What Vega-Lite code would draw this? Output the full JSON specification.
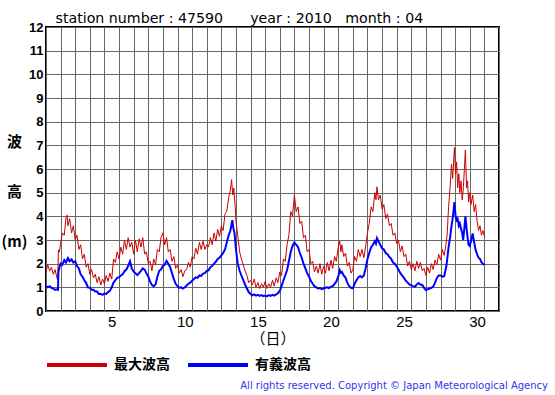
{
  "$schema": "https://vega.github.io/schema/vega-lite/v6.json",
  "width": 453,
  "height": 284,
  "autosize": {"type": "none"},
  "padding": {"left": 46, "top": 27, "right": 56, "bottom": 84},
  "background": "white",
  "config": {"view": {"stroke": "black", "strokeWidth": 2}, "font": "Liberation Sans", "axis": {"labelOverlap": false}},
  "title": {
    "text": "All rights reserved. Copyright © Japan Meteorological Agency",
    "orient": "bottom", "anchor": "end", "frame": "group", "dx": 49, "offset": 8,
    "fontSize": 10, "font": "DejaVu Sans", "fontWeight": "normal", "color": "#3333ee"
  },
  "datasets": {
    "maxh": [
      {"t":1.00,"v":1.66},{"t":1.12,"v":1.95},{"t":1.25,"v":1.7},{"t":1.37,"v":1.85},{"t":1.50,"v":1.55},{"t":1.62,"v":1.75},{"t":1.75,"v":1.4},{"t":1.80,"v":1.3},{"t":1.85,"v":2.58},{"t":1.92,"v":2.5},
      {"t":2.00,"v":2.86},{"t":2.12,"v":3.3},{"t":2.25,"v":3.2},{"t":2.37,"v":3.95},{"t":2.45,"v":4.05},{"t":2.50,"v":3.6},{"t":2.62,"v":3.9},{"t":2.75,"v":3.3},{"t":2.87,"v":3.6},
      {"t":3.00,"v":3.0},{"t":3.12,"v":3.2},{"t":3.25,"v":2.6},{"t":3.37,"v":2.8},{"t":3.50,"v":2.2},{"t":3.62,"v":2.4},{"t":3.75,"v":1.85},{"t":3.87,"v":2.0},
      {"t":4.00,"v":1.55},{"t":4.12,"v":1.75},{"t":4.25,"v":1.4},{"t":4.37,"v":1.55},{"t":4.50,"v":1.2},{"t":4.62,"v":1.45},{"t":4.75,"v":1.1},{"t":4.87,"v":1.35},
      {"t":5.00,"v":1.15},{"t":5.12,"v":1.5},{"t":5.25,"v":1.25},{"t":5.37,"v":1.6},{"t":5.50,"v":1.35},{"t":5.62,"v":2.2},{"t":5.75,"v":2.05},{"t":5.87,"v":2.5},
      {"t":6.00,"v":2.2},{"t":6.12,"v":2.7},{"t":6.25,"v":2.4},{"t":6.37,"v":3.0},{"t":6.50,"v":2.6},{"t":6.62,"v":3.1},{"t":6.75,"v":2.7},{"t":6.87,"v":2.9},
      {"t":7.00,"v":2.4},{"t":7.12,"v":3.0},{"t":7.25,"v":2.5},{"t":7.37,"v":3.05},{"t":7.50,"v":2.7},{"t":7.62,"v":3.1},{"t":7.75,"v":2.4},{"t":7.87,"v":2.5},
      {"t":8.00,"v":2.0},{"t":8.12,"v":2.1},{"t":8.25,"v":1.7},{"t":8.37,"v":2.2},{"t":8.50,"v":1.95},{"t":8.62,"v":2.6},{"t":8.75,"v":2.5},{"t":8.87,"v":3.1},
      {"t":9.00,"v":3.3},{"t":9.12,"v":2.8},{"t":9.25,"v":3.1},{"t":9.37,"v":2.5},{"t":9.50,"v":2.6},{"t":9.62,"v":2.1},{"t":9.75,"v":2.3},{"t":9.87,"v":1.8},
      {"t":10.00,"v":1.95},{"t":10.12,"v":1.6},{"t":10.25,"v":1.75},{"t":10.37,"v":1.45},{"t":10.50,"v":1.7},{"t":10.62,"v":1.75},{"t":10.75,"v":2.05},{"t":10.87,"v":1.85},
      {"t":11.00,"v":2.3},{"t":11.12,"v":2.2},{"t":11.25,"v":2.65},{"t":11.37,"v":2.4},{"t":11.50,"v":2.9},{"t":11.62,"v":2.6},{"t":11.75,"v":2.95},{"t":11.87,"v":2.6},
      {"t":12.00,"v":2.8},{"t":12.12,"v":2.7},{"t":12.25,"v":3.1},{"t":12.37,"v":2.8},{"t":12.50,"v":3.3},{"t":12.62,"v":2.95},{"t":12.75,"v":3.45},{"t":12.87,"v":3.15},
      {"t":13.00,"v":3.6},{"t":13.12,"v":3.4},{"t":13.25,"v":4.1},{"t":13.37,"v":4.2},{"t":13.50,"v":4.8},{"t":13.62,"v":5.1},{"t":13.70,"v":5.55},{"t":13.78,"v":4.9},{"t":13.85,"v":5.2},{"t":13.95,"v":4.4},
      {"t":14.00,"v":3.8},{"t":14.12,"v":3.2},{"t":14.25,"v":2.5},{"t":14.37,"v":2.2},{"t":14.50,"v":1.95},{"t":14.62,"v":1.7},{"t":14.75,"v":1.5},{"t":14.87,"v":1.2},
      {"t":15.00,"v":1.3},{"t":15.12,"v":1.1},{"t":15.25,"v":1.35},{"t":15.37,"v":1.0},{"t":15.50,"v":1.2},{"t":15.62,"v":0.95},{"t":15.75,"v":1.15},{"t":15.87,"v":1.0},
      {"t":16.00,"v":1.25},{"t":16.12,"v":0.95},{"t":16.25,"v":1.15},{"t":16.37,"v":1.0},{"t":16.50,"v":1.3},{"t":16.62,"v":1.05},{"t":16.75,"v":1.4},{"t":16.87,"v":1.2},
      {"t":17.00,"v":1.65},{"t":17.12,"v":1.5},{"t":17.25,"v":2.2},{"t":17.37,"v":2.1},{"t":17.50,"v":2.8},{"t":17.62,"v":3.2},{"t":17.75,"v":4.2},{"t":17.87,"v":4.0},
      {"t":18.00,"v":4.9},{"t":18.12,"v":4.2},{"t":18.25,"v":4.4},{"t":18.37,"v":3.7},{"t":18.50,"v":3.8},{"t":18.62,"v":3.1},{"t":18.75,"v":3.2},{"t":18.87,"v":2.5},
      {"t":19.00,"v":2.6},{"t":19.12,"v":2.0},{"t":19.25,"v":2.1},{"t":19.37,"v":1.65},{"t":19.50,"v":1.9},{"t":19.62,"v":1.6},{"t":19.75,"v":2.0},{"t":19.87,"v":1.55},
      {"t":20.00,"v":1.9},{"t":20.12,"v":1.6},{"t":20.25,"v":2.05},{"t":20.37,"v":1.7},{"t":20.50,"v":2.15},{"t":20.62,"v":1.8},{"t":20.75,"v":2.3},{"t":20.87,"v":2.1},
      {"t":21.00,"v":2.7},{"t":21.10,"v":2.95},{"t":21.18,"v":2.5},{"t":21.25,"v":2.8},{"t":21.37,"v":2.3},{"t":21.50,"v":2.45},{"t":21.62,"v":1.9},{"t":21.75,"v":2.05},{"t":21.87,"v":1.6},
      {"t":22.00,"v":1.75},{"t":22.12,"v":2.3},{"t":22.25,"v":2.1},{"t":22.37,"v":2.6},{"t":22.50,"v":2.3},{"t":22.62,"v":2.6},{"t":22.75,"v":2.25},{"t":22.87,"v":2.7},
      {"t":23.00,"v":3.3},{"t":23.12,"v":3.7},{"t":23.25,"v":4.4},{"t":23.37,"v":4.2},{"t":23.50,"v":5.0},{"t":23.58,"v":4.7},{"t":23.65,"v":5.25},{"t":23.75,"v":4.7},{"t":23.87,"v":4.9},
      {"t":24.00,"v":4.3},{"t":24.12,"v":4.5},{"t":24.25,"v":3.9},{"t":24.37,"v":4.1},{"t":24.50,"v":3.6},{"t":24.62,"v":3.7},{"t":24.75,"v":3.2},{"t":24.87,"v":3.3},
      {"t":25.00,"v":2.85},{"t":25.12,"v":3.0},{"t":25.25,"v":2.5},{"t":25.37,"v":2.75},{"t":25.50,"v":2.3},{"t":25.62,"v":2.4},{"t":25.75,"v":1.9},{"t":25.87,"v":2.1},
      {"t":26.00,"v":1.75},{"t":26.12,"v":2.0},{"t":26.25,"v":1.7},{"t":26.37,"v":2.1},{"t":26.50,"v":1.8},{"t":26.62,"v":2.05},{"t":26.75,"v":1.7},{"t":26.87,"v":1.8},
      {"t":27.00,"v":1.5},{"t":27.12,"v":1.85},{"t":27.25,"v":1.6},{"t":27.37,"v":2.0},{"t":27.50,"v":1.75},{"t":27.62,"v":2.15},{"t":27.75,"v":1.95},{"t":27.87,"v":2.4},
      {"t":28.00,"v":2.15},{"t":28.12,"v":2.6},{"t":28.25,"v":2.35},{"t":28.37,"v":2.8},{"t":28.45,"v":3.2},{"t":28.55,"v":4.4},{"t":28.65,"v":5.2},{"t":28.75,"v":6.2},{"t":28.83,"v":5.6},{"t":28.95,"v":6.9},
      {"t":29.03,"v":5.8},{"t":29.10,"v":6.3},{"t":29.17,"v":5.2},{"t":29.25,"v":5.8},{"t":29.32,"v":5.0},{"t":29.40,"v":5.5},{"t":29.48,"v":4.7},{"t":29.55,"v":5.1},{"t":29.63,"v":6.0},{"t":29.70,"v":6.8},{"t":29.78,"v":5.2},{"t":29.85,"v":5.5},{"t":29.92,"v":4.6},
      {"t":30.00,"v":5.0},{"t":30.08,"v":4.5},{"t":30.20,"v":4.9},{"t":30.30,"v":4.2},{"t":30.40,"v":4.5},{"t":30.50,"v":3.8},{"t":30.60,"v":3.4},{"t":30.70,"v":3.6},{"t":30.80,"v":3.2},{"t":30.90,"v":3.4},{"t":31.00,"v":3.15}
    ],
    "sigh": [
      {"t":1.00,"v":1.06},{"t":1.12,"v":1.0},{"t":1.25,"v":1.05},{"t":1.37,"v":0.98},{"t":1.50,"v":0.95},{"t":1.62,"v":0.89},{"t":1.75,"v":0.92},{"t":1.82,"v":0.9},{"t":1.85,"v":1.66},{"t":1.92,"v":1.85},
      {"t":2.00,"v":2.0},{"t":2.12,"v":1.95},{"t":2.25,"v":2.15},{"t":2.37,"v":2.05},{"t":2.50,"v":2.24},{"t":2.62,"v":2.1},{"t":2.75,"v":2.18},{"t":2.87,"v":2.05},
      {"t":3.00,"v":2.1},{"t":3.12,"v":1.9},{"t":3.25,"v":1.8},{"t":3.37,"v":1.55},{"t":3.50,"v":1.45},{"t":3.62,"v":1.3},{"t":3.75,"v":1.18},{"t":3.87,"v":1.0},
      {"t":4.00,"v":0.98},{"t":4.12,"v":0.9},{"t":4.25,"v":0.9},{"t":4.37,"v":0.82},{"t":4.50,"v":0.82},{"t":4.62,"v":0.72},{"t":4.75,"v":0.72},{"t":4.87,"v":0.68},
      {"t":5.00,"v":0.74},{"t":5.12,"v":0.72},{"t":5.25,"v":0.8},{"t":5.37,"v":0.85},{"t":5.50,"v":1.0},{"t":5.62,"v":1.2},{"t":5.75,"v":1.3},{"t":5.87,"v":1.4},
      {"t":6.00,"v":1.43},{"t":6.12,"v":1.5},{"t":6.25,"v":1.55},{"t":6.37,"v":1.68},{"t":6.50,"v":1.75},{"t":6.62,"v":1.9},{"t":6.75,"v":2.1},{"t":6.87,"v":1.8},
      {"t":7.00,"v":1.66},{"t":7.12,"v":1.6},{"t":7.25,"v":1.52},{"t":7.37,"v":1.6},{"t":7.50,"v":1.7},{"t":7.62,"v":1.8},{"t":7.75,"v":1.75},{"t":7.87,"v":1.6},
      {"t":8.00,"v":1.45},{"t":8.12,"v":1.25},{"t":8.25,"v":1.1},{"t":8.37,"v":1.05},{"t":8.50,"v":1.12},{"t":8.62,"v":1.45},{"t":8.75,"v":1.7},{"t":8.87,"v":1.75},
      {"t":9.00,"v":1.9},{"t":9.12,"v":1.95},{"t":9.25,"v":2.12},{"t":9.37,"v":2.0},{"t":9.50,"v":1.85},{"t":9.62,"v":1.6},{"t":9.75,"v":1.35},{"t":9.87,"v":1.15},
      {"t":10.00,"v":1.05},{"t":10.12,"v":0.98},{"t":10.25,"v":1.0},{"t":10.37,"v":0.95},{"t":10.50,"v":1.0},{"t":10.62,"v":1.08},{"t":10.75,"v":1.15},{"t":10.87,"v":1.2},
      {"t":11.00,"v":1.28},{"t":11.12,"v":1.35},{"t":11.25,"v":1.42},{"t":11.37,"v":1.4},{"t":11.50,"v":1.5},{"t":11.62,"v":1.48},{"t":11.75,"v":1.58},{"t":11.87,"v":1.6},
      {"t":12.00,"v":1.7},{"t":12.12,"v":1.72},{"t":12.25,"v":1.85},{"t":12.37,"v":1.9},{"t":12.50,"v":2.0},{"t":12.62,"v":2.08},{"t":12.75,"v":2.2},{"t":12.87,"v":2.25},
      {"t":13.00,"v":2.35},{"t":13.12,"v":2.45},{"t":13.25,"v":2.6},{"t":13.37,"v":2.9},{"t":13.50,"v":3.2},{"t":13.62,"v":3.4},{"t":13.75,"v":3.84},{"t":13.82,"v":3.5},{"t":13.90,"v":3.3},
      {"t":14.00,"v":2.6},{"t":14.12,"v":2.0},{"t":14.25,"v":1.7},{"t":14.37,"v":1.5},{"t":14.50,"v":1.3},{"t":14.62,"v":1.12},{"t":14.75,"v":0.95},{"t":14.87,"v":0.8},
      {"t":15.00,"v":0.72},{"t":15.12,"v":0.66},{"t":15.25,"v":0.7},{"t":15.37,"v":0.65},{"t":15.50,"v":0.68},{"t":15.62,"v":0.64},{"t":15.75,"v":0.67},{"t":15.87,"v":0.63},
      {"t":16.00,"v":0.65},{"t":16.12,"v":0.62},{"t":16.25,"v":0.67},{"t":16.37,"v":0.64},{"t":16.50,"v":0.68},{"t":16.62,"v":0.65},{"t":16.75,"v":0.7},{"t":16.87,"v":0.75},
      {"t":17.00,"v":0.85},{"t":17.12,"v":1.05},{"t":17.25,"v":1.3},{"t":17.37,"v":1.5},{"t":17.50,"v":1.73},{"t":17.62,"v":2.1},{"t":17.75,"v":2.5},{"t":17.87,"v":2.75},
      {"t":18.00,"v":2.9},{"t":18.12,"v":2.8},{"t":18.25,"v":2.7},{"t":18.37,"v":2.45},{"t":18.50,"v":2.25},{"t":18.62,"v":2.0},{"t":18.75,"v":1.8},{"t":18.87,"v":1.6},
      {"t":19.00,"v":1.45},{"t":19.12,"v":1.28},{"t":19.25,"v":1.15},{"t":19.37,"v":1.05},{"t":19.50,"v":1.0},{"t":19.62,"v":0.95},{"t":19.75,"v":0.97},{"t":19.87,"v":0.92},
      {"t":20.00,"v":0.95},{"t":20.12,"v":0.98},{"t":20.25,"v":1.0},{"t":20.37,"v":0.97},{"t":20.50,"v":1.03},{"t":20.62,"v":1.05},{"t":20.75,"v":1.15},{"t":20.87,"v":1.25},
      {"t":21.00,"v":1.45},{"t":21.10,"v":1.73},{"t":21.18,"v":1.62},{"t":21.25,"v":1.65},{"t":21.37,"v":1.5},{"t":21.50,"v":1.4},{"t":21.62,"v":1.2},{"t":21.75,"v":1.05},{"t":21.87,"v":0.98},
      {"t":22.00,"v":0.96},{"t":22.12,"v":1.15},{"t":22.25,"v":1.3},{"t":22.37,"v":1.42},{"t":22.50,"v":1.48},{"t":22.62,"v":1.42},{"t":22.75,"v":1.5},{"t":22.87,"v":1.8},
      {"t":23.00,"v":2.2},{"t":23.12,"v":2.45},{"t":23.25,"v":2.7},{"t":23.37,"v":2.8},{"t":23.50,"v":2.95},{"t":23.58,"v":2.85},{"t":23.65,"v":3.08},{"t":23.75,"v":2.95},{"t":23.87,"v":2.8},
      {"t":24.00,"v":2.65},{"t":24.12,"v":2.6},{"t":24.25,"v":2.45},{"t":24.37,"v":2.4},{"t":24.50,"v":2.28},{"t":24.62,"v":2.2},{"t":24.75,"v":2.05},{"t":24.87,"v":2.0},
      {"t":25.00,"v":1.88},{"t":25.12,"v":1.75},{"t":25.25,"v":1.6},{"t":25.37,"v":1.5},{"t":25.50,"v":1.4},{"t":25.62,"v":1.28},{"t":25.75,"v":1.2},{"t":25.87,"v":1.12},
      {"t":26.00,"v":1.08},{"t":26.12,"v":1.05},{"t":26.25,"v":1.03},{"t":26.37,"v":1.12},{"t":26.50,"v":1.18},{"t":26.62,"v":1.12},{"t":26.75,"v":1.1},{"t":26.87,"v":0.98},
      {"t":27.00,"v":0.89},{"t":27.12,"v":0.92},{"t":27.25,"v":0.95},{"t":27.37,"v":0.98},{"t":27.50,"v":1.03},{"t":27.62,"v":1.2},{"t":27.75,"v":1.4},{"t":27.87,"v":1.5},
      {"t":28.00,"v":1.5},{"t":28.12,"v":1.45},{"t":28.25,"v":1.47},{"t":28.40,"v":1.9},{"t":28.55,"v":2.7},{"t":28.65,"v":3.1},{"t":28.75,"v":3.6},{"t":28.85,"v":4.0},{"t":28.95,"v":4.6},
      {"t":29.03,"v":4.0},{"t":29.10,"v":3.84},{"t":29.17,"v":3.9},{"t":29.25,"v":3.6},{"t":29.32,"v":3.7},{"t":29.40,"v":3.5},{"t":29.48,"v":3.3},{"t":29.55,"v":3.0},{"t":29.63,"v":3.5},{"t":29.70,"v":4.0},{"t":29.78,"v":3.5},{"t":29.85,"v":3.1},{"t":29.92,"v":2.8},
      {"t":30.00,"v":2.75},{"t":30.10,"v":3.0},{"t":30.20,"v":3.28},{"t":30.30,"v":2.9},{"t":30.40,"v":2.58},{"t":30.50,"v":2.4},{"t":30.60,"v":2.25},{"t":30.70,"v":2.2},{"t":30.80,"v":2.05},{"t":30.90,"v":2.0},{"t":31.00,"v":1.94}
    ]
  },
  "encoding": {
    "y": {
      "field": "v", "type": "quantitative",
      "scale": {"domain": [0, 12], "nice": false},
      "axis": {
        "values": [0,1,2,3,4,5,6,7,8,9,10,11,12],
        "ticks": false, "domain": false,
        "grid": true, "gridColor": "#666666", "gridWidth": 1, "gridOpacity": 1,
        "labelFontSize": 13, "labelFontWeight": "bold", "labelColor": "black", "labelPadding": 3,
        "labelFlush": false, "labelOverlap": false,
        "title": ["波", "高", "(m)"],
        "titleAngle": 0, "titleAlign": "center", "titleBaseline": "middle",
        "titleX": -32, "titleY": 114, "titleLineHeight": 50,
        "titleFont": "Noto Sans CJK JP", "titleFontSize": 15, "titleFontWeight": "bold", "titleColor": "black"
      }
    }
  },
  "layer": [
    {
      "data": {"name": "maxh"},
      "mark": {"type": "line", "strokeWidth": 1, "clip": true},
      "encoding": {
        "x": {
          "field": "t", "type": "quantitative",
          "scale": {"domain": [1, 32], "nice": false, "zero": false},
          "axis": {
            "orient": "bottom",
            "values": [1,2,3,4,5,6,7,8,9,10,11,12,13,14,15,16,17,18,19,20,21,22,23,24,25,26,27,28,29,30,31,32],
            "labelExpr": "(datum.value % 5 == 0 && datum.value <= 30) ? datum.value : ''",
            "labelOffset": 7.3, "labelOverlap": false, "labelFlush": false,
            "labelFontSize": 15, "labelColor": "black", "labelPadding": 3,
            "ticks": false, "domain": false,
            "grid": true, "gridColor": "#666666", "gridWidth": 1, "gridOpacity": 1,
            "title": "（日）", "titleFont": "Noto Sans CJK JP", "titleFontSize": 15, "titleFontWeight": "normal",
            "titleColor": "black", "titlePadding": 2
          }
        },
        "color": {
          "datum": "最大波高",
          "scale": {"domain": ["最大波高", "有義波高"], "range": ["#cc0000", "#0000ff"]},
          "legend": {
            "orient": "none", "legendX": -1, "legendY": 306, "direction": "horizontal",
            "title": null, "symbolType": "stroke", "symbolSize": 3600, "symbolStrokeWidth": 4,
            "labelFont": "Noto Sans CJK JP", "labelFontSize": 14, "labelFontWeight": "bold",
            "labelColor": "black", "labelOffset": 5, "columnPadding": 10
          }
        }
      }
    },
    {
      "data": {"name": "sigh"},
      "mark": {"type": "line", "strokeWidth": 2, "clip": true},
      "encoding": {
        "x": {
          "field": "t", "type": "quantitative",
          "axis": {
            "orient": "top", "labels": false, "ticks": false, "domain": false, "grid": false,
            "title": "station number : 47590\u00a0\u00a0\u00a0\u00a0\u00a0\u00a0year : 2010\u00a0\u00a0\u00a0month : 04",
            "titleFont": "DejaVu Sans", "titleFontSize": 14.2, "titleFontWeight": "normal", "titleColor": "black",
            "titleAlign": "left", "titleX": 9, "titleY": -5, "titleBaseline": "alphabetic"
          }
        },
        "color": {"datum": "有義波高"}
      }
    }
  ],
  "resolve": {"axis": {"x": "independent"}}
}
